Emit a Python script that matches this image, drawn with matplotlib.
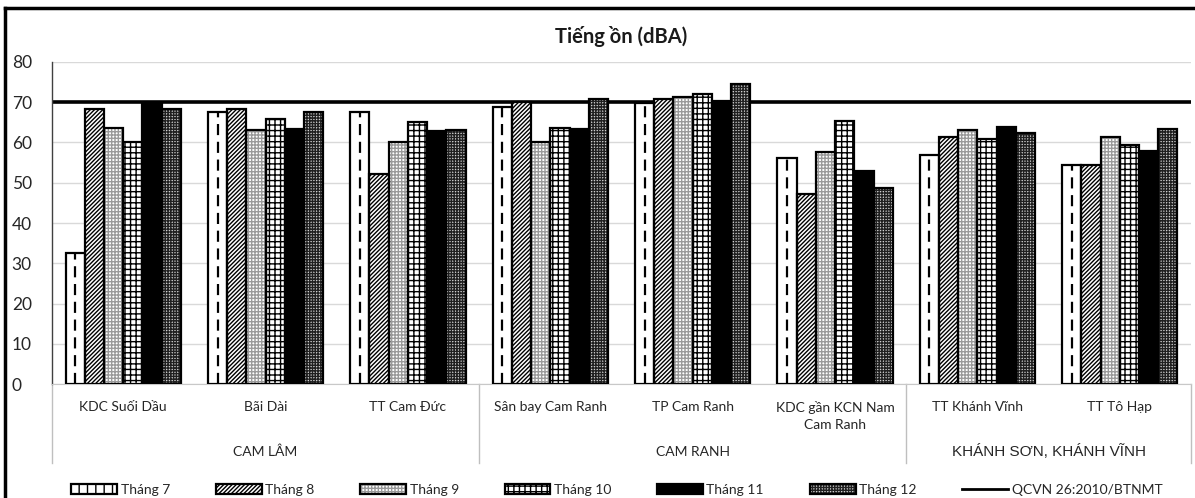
import numpy as np
import matplotlib
matplotlib.use('Agg')
import matplotlib.pyplot as plt
from matplotlib.patches import Patch
from matplotlib.lines import Line2D
from matplotlib.legend_handler import HandlerTuple
import matplotlib.transforms as mtransforms

# categories
sites = ['KDC Suối Dầu', 'Bãi Dài', 'TT Cam Đức', 'Sân bay Cam Ranh', 'TP Cam Ranh',
         'KDC gần KCN Nam\nCam Ranh', 'TT Khánh Vĩnh', 'TT Tô Hạp']
regions = ['CAM LÂM', 'CAM RANH', 'KHÁNH SƠN, KHÁNH VĨNH']
region_sizes = [3, 3, 2]
months = ['Tháng 7', 'Tháng 8', 'Tháng 9', 'Tháng 10', 'Tháng 11', 'Tháng 12']

# noise levels (dBA)
thang7 = [32.6, 67.5, 67.5, 68.7, 69.7, 56.2, 57.0, 54.3]
thang8 = [68.2, 68.2, 52.1, 70.1, 70.8, 47.3, 61.3, 54.3]
thang9 = [63.6, 63.1, 60.0, 60.2, 71.4, 57.7, 63.1, 61.3]
thang10 = [60.0, 65.9, 65.2, 63.6, 72.0, 65.3, 60.9, 59.3]
thang11 = [69.5, 63.3, 62.9, 63.3, 70.3, 52.8, 63.9, 57.9]
thang12 = [68.2, 67.6, 63.1, 70.7, 74.6, 48.7, 62.4, 63.4]
qcvn_limit = 70

series = [thang7, thang8, thang9, thang10, thang11, thang12]

plt.rcParams['font.family'] = ['Lato', 'DejaVu Sans']
plt.rcParams['hatch.linewidth'] = 1.0

# fill, hatch, hatch colour for each month
styles = [
    ('white', '', 'black'),
    ('white', '////////', 'black'),
    ('white', '+++++', '#9a9a9a'),
    ('white', '+++', 'black'),
    ('black', '', 'black'),
    ('#d0d0d0', '++++++', '#202020'),
]

fig = plt.figure(figsize=(11.95, 4.98), dpi=100)
ax = fig.add_axes([52 / 1195, 1 - 384 / 498, (1191 - 52) / 1195, 322 / 498])

x = np.arange(len(sites))
w = 0.135
legend_handles = []
for i, vals in enumerate(series):
    fc, hatch, hc = styles[i]
    pos = x + (i - 2.5) * w
    ax.bar(pos, vals, w, color=fc, hatch=hatch, edgecolor=hc, linewidth=0, zorder=3)
    ax.bar(pos, vals, w, fill=False, edgecolor='black', linewidth=1.6, zorder=4)
    if i == 0:
        # dashed line down the middle of the July bars
        ax.vlines(pos, 0, vals, colors='black', linewidth=1.6,
                  linestyles=(0, (5, 3)), zorder=4)
        h = (Patch(facecolor='white', hatch='||', edgecolor='black', linewidth=0),
             Patch(fill=False, edgecolor='black', linewidth=1.6))
    else:
        h = (Patch(facecolor=fc, hatch=hatch, edgecolor=hc, linewidth=0),
             Patch(fill=False, edgecolor='black', linewidth=1.6))
    legend_handles.append(h)

ax.axhline(qcvn_limit, color='black', linewidth=2.6, zorder=2)
legend_handles.append(Line2D([], [], color='black', linewidth=2))

ax.set_xlim(-0.5, len(sites) - 0.5)
ax.set_ylim(0, 80)
ax.set_yticks(np.arange(0, 81, 10))
ax.grid(axis='y', color='#d9d9d9', linewidth=1, zorder=0)
ax.set_axisbelow(True)
for s in ['top', 'right']:
    ax.spines[s].set_visible(False)
ax.spines['left'].set_color('#404040')
ax.spines['left'].set_linewidth(1)
ax.spines['bottom'].set_color('#c8c8c8')
ax.tick_params(axis='y', length=0, pad=29, labelsize=12.5, labelcolor='#262626')
for t in ax.get_yticklabels():
    t.set_horizontalalignment('left')

ax.set_xticks(x, sites, fontsize=10, color='#262626', linespacing=1.55)
ax.tick_params(axis='x', length=0, pad=12)

# region labels and separators below the site names
trans = mtransforms.blended_transform_factory(ax.transData, ax.transAxes)
start = -0.5
ax.plot([start, start], [0, -0.245], transform=trans, color='#bfbfbf', lw=1, clip_on=False)
for name, n in zip(regions, region_sizes):
    end = start + n
    ax.plot([end, end], [0, -0.245], transform=trans, color='#bfbfbf', lw=1, clip_on=False)
    if name.startswith('KHÁNH'):
        ax.text((start + end) / 2, -0.211, name, transform=trans, ha='center', va='center',
                fontsize=11, color='#262626', family=['Liberation Sans', 'DejaVu Sans'])
    else:
        ax.text((start + end) / 2, -0.211, name, transform=trans, ha='center', va='center',
                fontsize=10, color='#262626')
    start = end

ax.set_title('Tiếng ồn (dBA)', fontsize=14.5, fontweight='bold', color='#1a1a1a', pad=14)

fig.legend(legend_handles, months + ['QCVN 26:2010/BTNMT'], ncol=7,
           loc='center', bbox_to_anchor=(617 / 1195, 1 - 490 / 498), frameon=False,
           fontsize=10, handlelength=3.3, handleheight=0.65, handletextpad=0.25,
           columnspacing=3.3, labelcolor='#262626',
           handler_map={tuple: HandlerTuple(ndivide=1, pad=0)})

# outer frame (top and left edges show in the crop)
fig.add_artist(Line2D([5 / 1195, 1], [1 - 8 / 498, 1 - 8 / 498], color='black', lw=2.5))
fig.add_artist(Line2D([5 / 1195, 5 / 1195], [0, 1 - 8 / 498], color='black', lw=2.5))

fig.savefig('out.png', dpi=100)
